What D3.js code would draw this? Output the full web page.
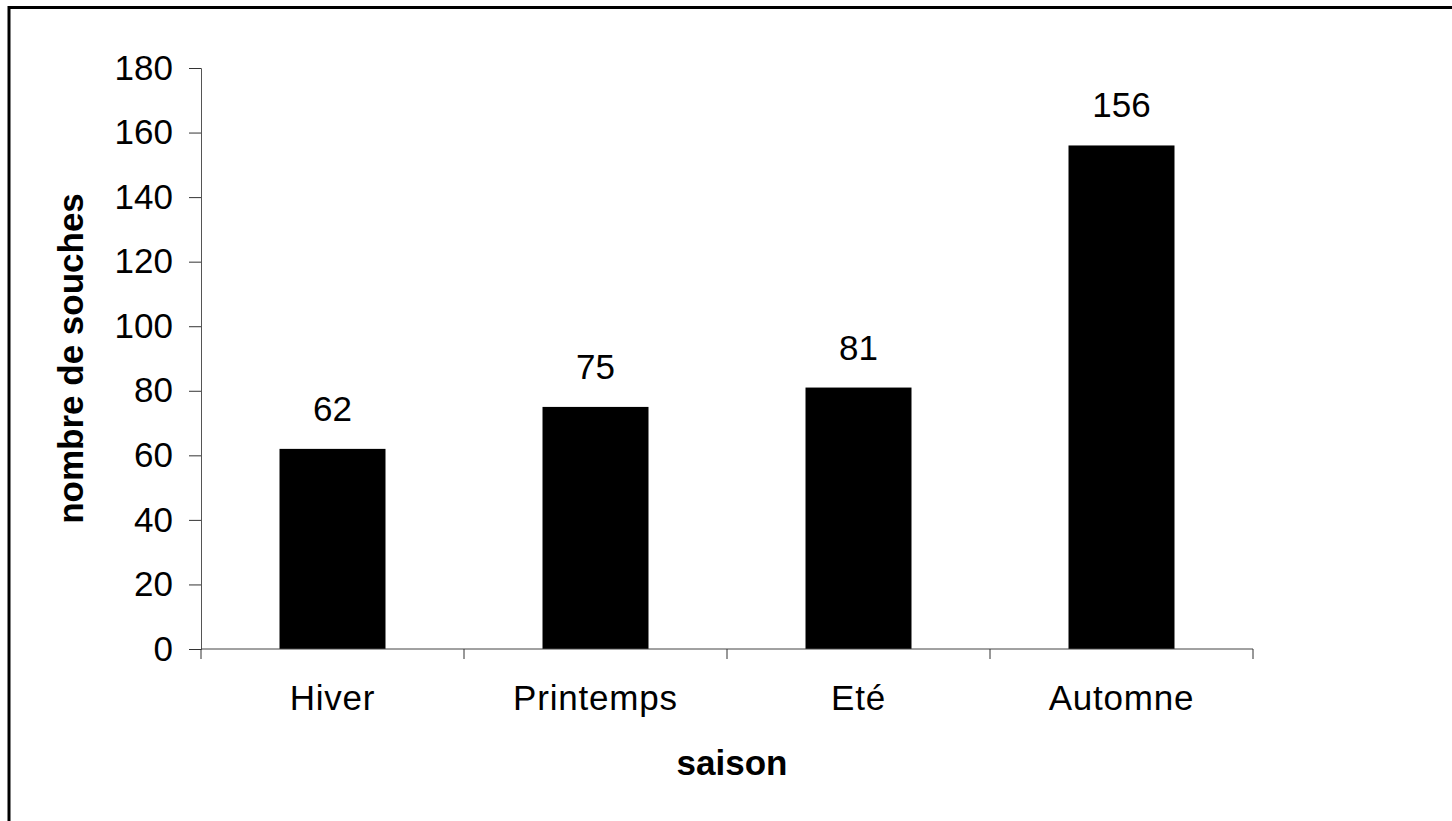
<!DOCTYPE html>
<html>
<head>
<meta charset="utf-8">
<script src="https://cdn.jsdelivr.net/npm/d3@7"></script>
<style>
  html, body { margin: 0; padding: 0; background: #fff; overflow: hidden; }
  svg { display: block; }
  text { font-family: "Liberation Sans", Arial, sans-serif; fill: #000; }
</style>
</head>
<body>
<svg id="chart" width="1452" height="821"></svg>
<script>
// Nombre de souches par saison
const saisons = ["Hiver", "Printemps", "Eté", "Automne"];
const souches = [62, 75, 81, 156];
const yTicks = [0, 20, 40, 60, 80, 100, 120, 140, 160, 180];

const W = 1452, H = 821;
const plot = { left: 201, right: 1253, top: 68, bottom: 649 };

const svg = d3.select("#chart");

// cadre extérieur
svg.append("rect")
  .attr("x", 9).attr("y", 7.5)
  .attr("width", W + 20).attr("height", H + 20)
  .attr("fill", "none").attr("stroke", "#000").attr("stroke-width", 3);

const x = d3.scaleBand()
  .domain(saisons)
  .range([plot.left, plot.right])
  .paddingInner(0.597).paddingOuter(0.2985);

const y = d3.scaleLinear().domain([0, 180]).range([plot.bottom, plot.top]);

// barres
svg.append("g").selectAll("rect")
  .data(saisons)
  .join("rect")
  .attr("x", d => x(d))
  .attr("y", (d, i) => y(souches[i]))
  .attr("width", x.bandwidth())
  .attr("height", (d, i) => y(0) - y(souches[i]))
  .attr("fill", "#000");

// axe Y
const yAxis = d3.axisLeft(y).tickValues(yTicks).tickSize(12).tickPadding(16);
const gy = svg.append("g").attr("transform", `translate(${plot.left},0)`).call(yAxis);
gy.select(".domain").attr("stroke", "#555");
gy.selectAll(".tick line").attr("stroke", "#333");
gy.selectAll(".tick text").attr("font-size", 35).attr("font-family", "Liberation Sans, Arial, sans-serif").attr("fill", "#000");

// axe X avec graduations aux limites des catégories
const gx = svg.append("g").attr("transform", `translate(0,${plot.bottom})`);
gx.append("line")
  .attr("x1", plot.left).attr("x2", plot.right)
  .attr("y1", 0).attr("y2", 0)
  .attr("stroke", "#444");
const step = (plot.right - plot.left) / saisons.length;
const bounds = d3.range(saisons.length + 1).map(i => plot.left + i * step);
gx.selectAll("line.tk")
  .data(bounds)
  .join("line")
  .attr("class", "tk")
  .attr("x1", d => d).attr("x2", d => d)
  .attr("y1", 0).attr("y2", 10)
  .attr("stroke", "#333");
gx.selectAll("text")
  .data(saisons)
  .join("text")
  .attr("x", d => x(d) + x.bandwidth() / 2)
  .attr("y", 61)
  .attr("text-anchor", "middle")
  .attr("font-size", 35)
  .attr("letter-spacing", 0.8)
  .text(d => d);

// étiquettes de valeur
svg.append("g").selectAll("text")
  .data(saisons)
  .join("text")
  .attr("x", d => x(d) + x.bandwidth() / 2)
  .attr("y", (d, i) => y(souches[i]) - 28)
  .attr("text-anchor", "middle")
  .attr("font-size", 35)
  .text((d, i) => souches[i]);

// titres des axes
svg.append("text")
  .attr("x", (plot.left + plot.right) / 2 + 5)
  .attr("y", 775)
  .attr("text-anchor", "middle")
  .attr("font-size", 35)
  .attr("font-weight", "bold")
  .text("saison");

svg.append("text")
  .attr("transform", `translate(83,${(plot.top + plot.bottom) / 2}) rotate(-90)`)
  .attr("text-anchor", "middle")
  .attr("font-size", 35)
  .attr("font-weight", "bold")
  .text("nombre de souches");
</script>
</body>
</html>
